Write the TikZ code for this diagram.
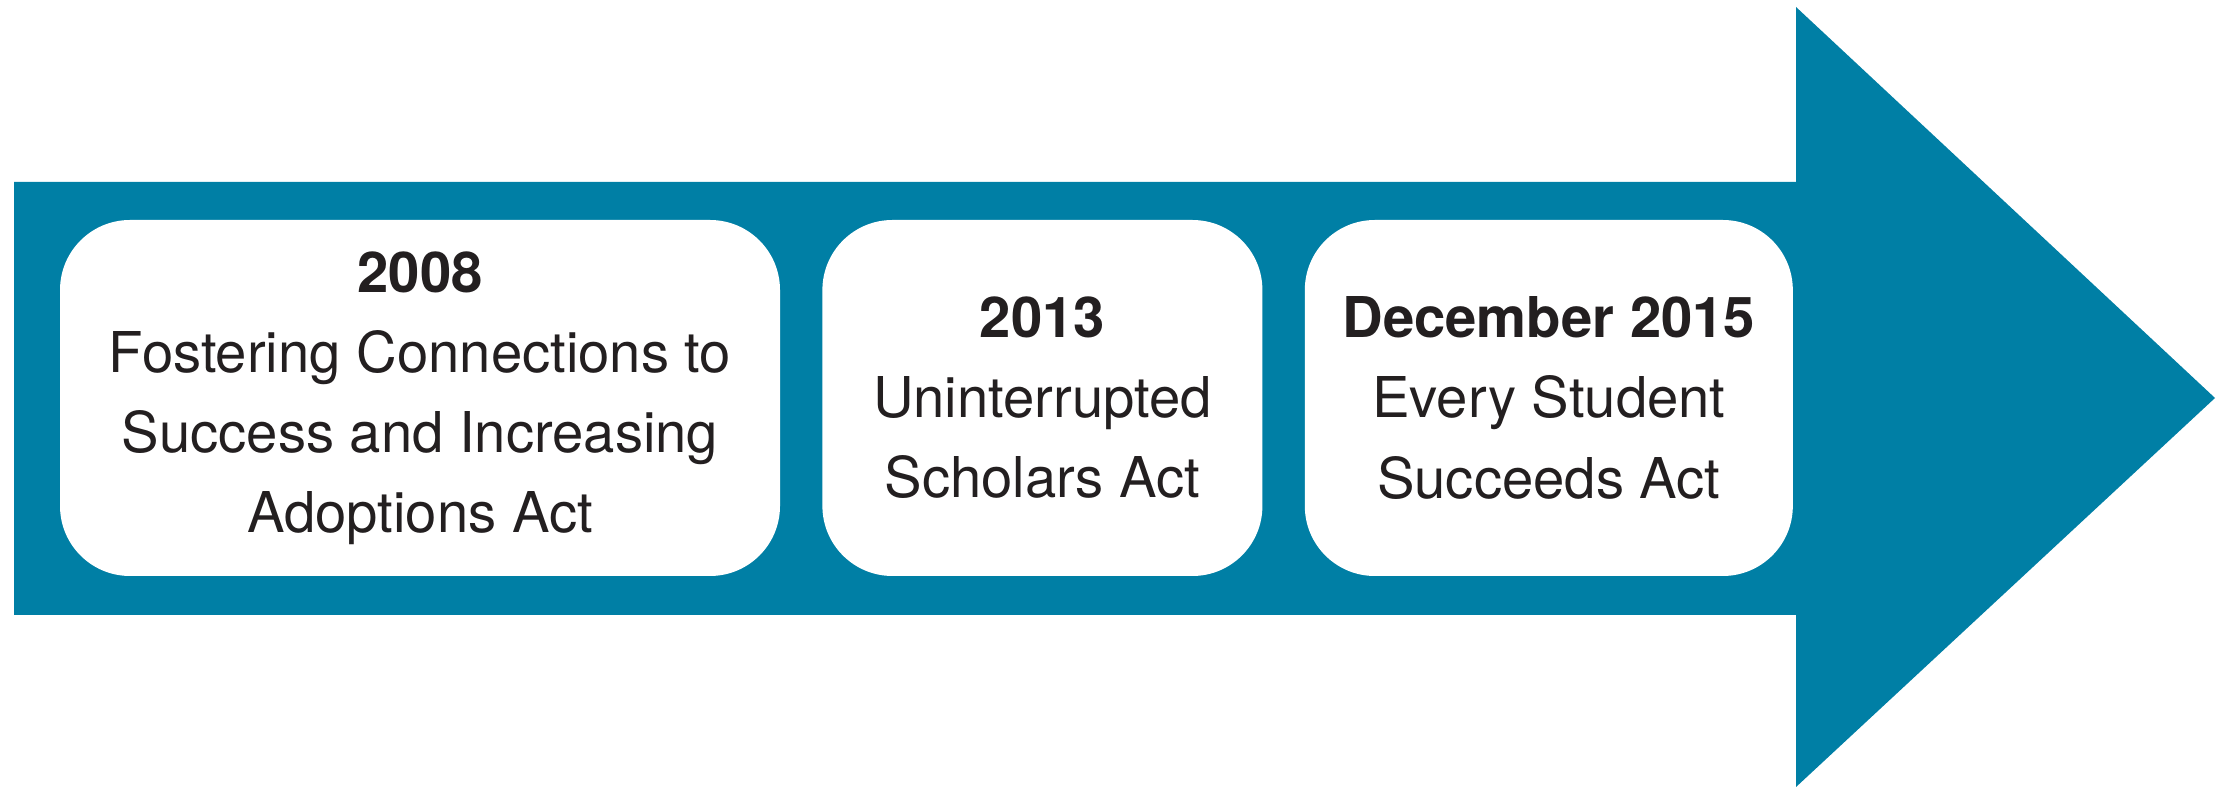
\documentclass[tikz,border=0pt]{standalone}
\usepackage{fontspec}
\setmainfont{TeX Gyre Heros}
\usetikzlibrary{positioning}
\definecolor{cTeal}{RGB}{0,127,165}
\definecolor{cText}{RGB}{35,31,32}
\tikzset{mybox/.style={
  shape=rectangle,
  rounded corners=0.7cm,
  fill=white,
  minimum height=3.56cm,
  align=center,
  inner sep=0pt,
  font=\fontsize{16}{22.8}\selectfont,
  text = cText,
  }
}

\begin{document}
\begin{tikzpicture}[]
  \useasboundingbox (0,0) rectangle (22.31,7.88);

  % big arrow
  \fill [cTeal] (0.14,1.73) -- (0.14,6.06) -- (17.96,6.06) -- (17.96,7.81)
    -- (22.15,3.90) -- (17.96,0.01) -- (17.96,1.73) -- cycle;

  \node [mybox, minimum width=7.20cm] (b1) at (4.20,3.90)
    {\textbf{2008}\\ Fostering Connections to\\ Success and Increasing\\ Adoptions Act};
  \node [mybox, minimum width=4.40cm, right =0.41cm of b1] (b2)
    {\textbf{2013}\\ Uninterrupted\\ Scholars Act};
  \node [mybox, minimum width=4.88cm, right =0.41cm of b2] (b3)
    {\textbf{December 2015}\\ Every Student\\ Succeeds Act};
\end{tikzpicture}
\end{document}
